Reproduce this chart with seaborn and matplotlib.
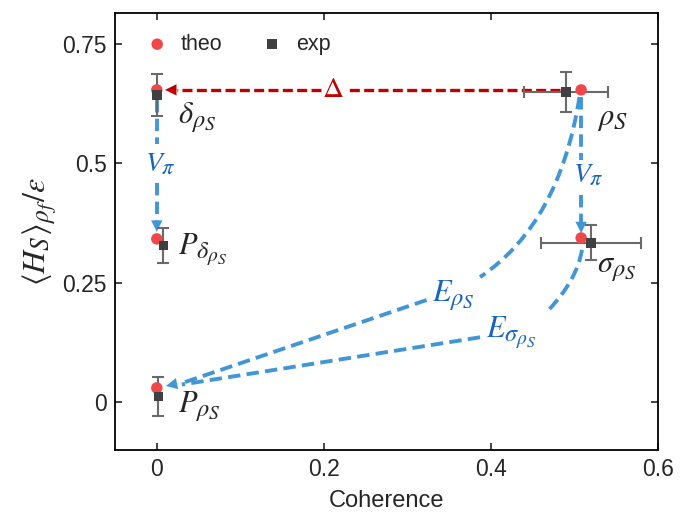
import numpy as np
import pandas as pd
import matplotlib
matplotlib.use("Agg")
import matplotlib.pyplot as plt
import matplotlib._mathtext as _mt
import seaborn as sns
from matplotlib.path import Path
from matplotlib.patches import PathPatch

# ---------------- data ----------------
theo_x = [0.0, 0.508, 0.508, 0.0, 0.0]
theo_y = [0.654, 0.654, 0.344, 0.342, 0.030]

exp_x = [0.0, 0.490, 0.520, 0.008, 0.002]
exp_y = [0.643, 0.650, 0.334, 0.328, 0.012]
exp_xerr = [0.0, 0.050, 0.060, 0.0, 0.0]
exp_yerr = [0.044, 0.042, 0.037, 0.036, 0.040]

x_ticks = [0, 0.2, 0.4, 0.6]
x_ticklabels = ["0", "0.2", "0.4", "0.6"]
y_ticks = [0, 0.25, 0.5, 0.75]
y_ticklabels = ["0", "0.25", "0.5", "0.75"]

theo_df = pd.DataFrame({"x": theo_x, "y": theo_y})
exp_df = pd.DataFrame({"x": exp_x, "y": exp_y})

# ---------------- style ----------------
sns.set_theme(style="white")
plt.rcParams["font.family"] = ["Liberation Sans", "DejaVu Sans"]
plt.rcParams["mathtext.fontset"] = "stix"
_mt.SHRINK_FACTOR = 0.8

RED = "#f04848"
GREY = "#404040"
ERR = "#6a6a6a"
BLUE_L = "#4396d6"
BLUE_T = "#1565c0"
DRED = "#c00000"

fig = plt.figure(figsize=(6.9, 5.26), dpi=100)
ax = fig.add_axes([0.1667, 0.1445, 0.7869, 0.8308])

ax.errorbar(exp_x, exp_y, xerr=exp_xerr, yerr=exp_yerr, fmt="none",
            ecolor=ERR, elinewidth=1.5, capsize=4, capthick=1.5, zorder=3)
sns.scatterplot(data=theo_df, x="x", y="y", ax=ax, color=RED, marker="o",
                s=68, edgecolor="none", label="theo", zorder=4)
sns.scatterplot(data=exp_df, x="x", y="y", ax=ax, color=GREY, marker="s",
                s=48, edgecolor="none", label="exp", zorder=5)

ax.set_xlim(-0.05, 0.6)
ax.set_ylim(-0.1, 0.815)
ax.set_xticks(x_ticks)
ax.set_xticklabels(x_ticklabels)
ax.set_yticks(y_ticks)
ax.set_yticklabels(y_ticklabels)
ax.tick_params(direction="in", length=5, width=1.2, labelsize=16.5,
               top=True, right=True, bottom=True, left=True, pad=6)
for s in ax.spines.values():
    s.set_visible(True)
    s.set_color("black")
    s.set_linewidth(1.3)

ax.set_xlabel("Coherence", fontsize=17, labelpad=6)
ax.set_ylabel(r"$\langle H_S\rangle_{\rho_f}/\epsilon$", fontsize=23, labelpad=2)

leg = ax.legend(loc="upper left", ncol=2, frameon=False, fontsize=15.5,
                handlelength=1.0, handletextpad=0.6, columnspacing=1.8,
                borderaxespad=0.0, bbox_to_anchor=(0.042, 0.972))

# ---------------- annotations ----------------
def dline(xs, ys, color, lw, dashes):
    ax.plot(xs, ys, color=color, lw=lw, dashes=dashes, solid_capstyle="butt",
            dash_capstyle="butt", zorder=2)

def head(tip, frm, color, ms):
    ax.annotate("", xy=tip, xytext=frm,
                arrowprops=dict(arrowstyle="-|>", color=color, lw=0.1,
                                mutation_scale=ms, shrinkA=0, shrinkB=0),
                zorder=2)

def bez(p0, c, p2, color, lw, dashes):
    path = Path([p0, c, p2], [Path.MOVETO, Path.CURVE3, Path.CURVE3])
    patch = PathPatch(path, facecolor="none", edgecolor=color, lw=lw,
                      linestyle=(0, dashes), capstyle="butt", zorder=2)
    ax.add_patch(patch)

# Delta arrow (red)
dline([0.483, 0.227], [0.654, 0.654], DRED, 2.4, (3, 1.3))
dline([0.196, 0.024], [0.654, 0.654], DRED, 2.4, (3, 1.3))
head((0.010, 0.654), (0.030, 0.654), DRED, 20)
ax.text(0.211, 0.655, r"$\Delta$", color=DRED, fontsize=21,
        ha="center", va="center")

# left V_pi
dline([0.0, 0.0], [0.633, 0.541], BLUE_L, 2.8, (3.2, 1.6))
dline([0.0, 0.0], [0.459, 0.380], BLUE_L, 2.8, (3.2, 1.6))
head((0.0, 0.357), (0.0, 0.385), BLUE_L, 20)
ax.text(0.004, 0.497, r"$V_\pi$", color=BLUE_T, fontsize=20,
        ha="center", va="center")

# right V_pi
dline([0.508, 0.508], [0.640, 0.507], BLUE_L, 2.8, (3.2, 1.6))
dline([0.508, 0.508], [0.434, 0.378], BLUE_L, 2.8, (3.2, 1.6))
head((0.508, 0.354), (0.508, 0.382), BLUE_L, 20)
ax.text(0.517, 0.474, r"$V_\pi$", color=BLUE_T, fontsize=20,
        ha="center", va="center")

# E_rho_S
bez((0.506, 0.639), (0.482, 0.374), (0.387, 0.262), BLUE_L, 2.8, (3.2, 1.6))
dline([0.323, 0.030], [0.214, 0.040], BLUE_L, 2.8, (3.2, 1.6))
# E_sigma
bez((0.509, 0.319), (0.503, 0.256), (0.469, 0.193), BLUE_L, 2.8, (3.2, 1.6))
dline([0.387, 0.030], [0.136, 0.037], BLUE_L, 2.8, (3.2, 1.6))
head((0.011, 0.034), (0.040, 0.045), BLUE_L, 20)

ax.text(0.329, 0.222, r"$E_{\rho_S}$", color=BLUE_T, fontsize=22,
        ha="left", va="center")
ax.text(0.394, 0.145, r"$E_{\sigma_{\rho_S}}$", color=BLUE_T, fontsize=22,
        ha="left", va="center")

# black labels
ax.text(0.025, 0.595, r"$\delta_{\rho_S}$", fontsize=22, ha="left", va="center")
ax.text(0.527, 0.595, r"$\rho_S$", fontsize=22, ha="left", va="center")
ax.text(0.527, 0.280, r"$\sigma_{\rho_S}$", fontsize=22, ha="left", va="center")
ax.text(0.025, 0.320, r"$P_{\delta_{\rho_S}}$", fontsize=22, ha="left", va="center")
ax.text(0.025, -0.010, r"$P_{\rho_S}$", fontsize=22, ha="left", va="center")

fig.savefig("out.png", dpi=100)
